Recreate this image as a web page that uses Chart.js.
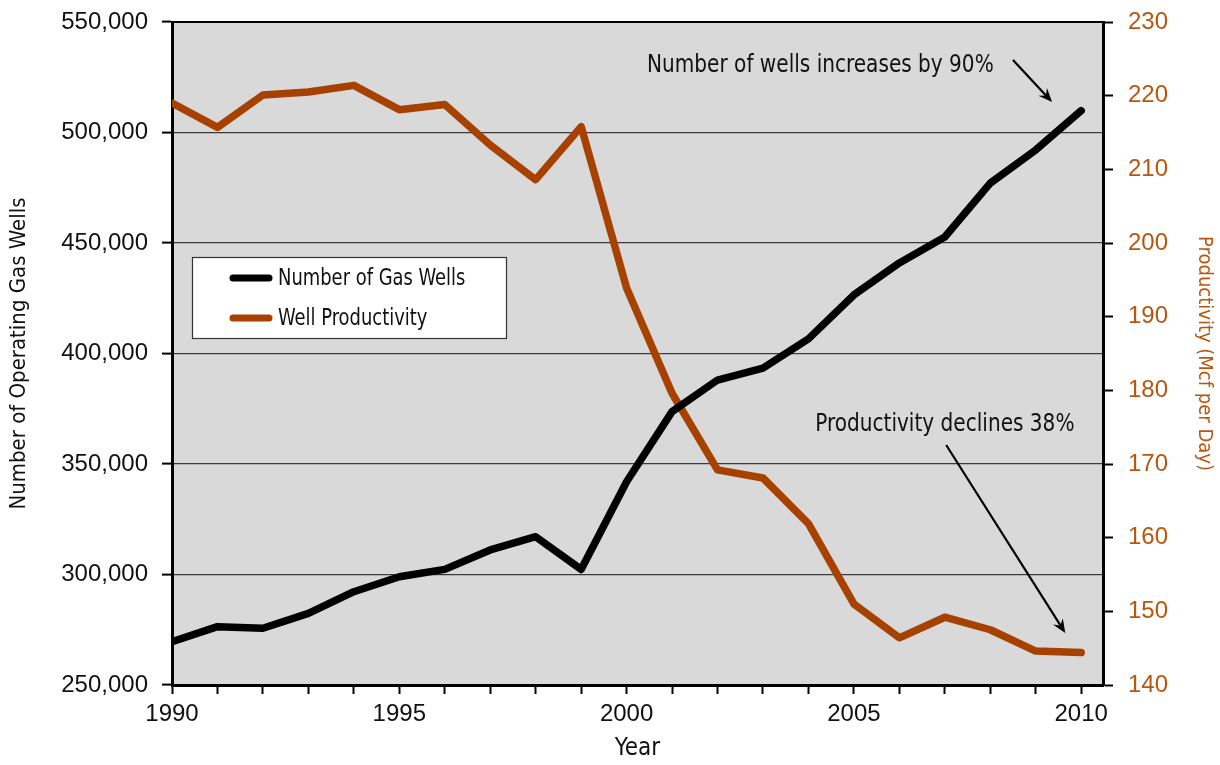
<!DOCTYPE html>
<html><head><meta charset="utf-8">
<script src="https://cdn.jsdelivr.net/npm/chart.js@4.4.1/dist/chart.umd.min.js"></script>
<style>html,body{margin:0;padding:0;background:#fff}#wrap{width:1220px;height:765px}</style>
</head><body><div id="wrap"><canvas id="c" width="1220" height="765"></canvas></div>
<script>
const years = [1990,1991,1992,1993,1994,1995,1996,1997,1998,1999,2000,2001,2002,2003,2004,2005,2006,2007,2008,2009,2010];
const gasWells = [269600,276400,275700,282400,292200,299000,302300,311100,317100,302300,342000,373700,388000,393400,406600,426500,441000,452700,477100,492100,509900];
const productivity = [219.0,215.7,220.1,220.5,221.4,218.1,218.8,213.3,208.6,215.8,193.9,179.6,169.2,168.1,161.9,151.0,146.4,149.2,147.5,144.6,144.4];
const seriesLabels = ['Number of Gas Wells','Well Productivity'];
const xTickLabels = ['1990','1995','2000','2005','2010'];
const wellTicks = [250000,300000,350000,400000,450000,500000,550000];
const prodTicks = [140,150,160,170,180,190,200,210,220,230];
const axisTitles = ['Year','Number of Operating Gas Wells','Productivity (Mcf per Day)'];
const noteTexts = ['Number of wells increases by 90%','Productivity declines 38%'];
// annotation anchors in data units: [year, wells]
const noteAnchors = [[2000.45,527400],[2004.15,364900]];
const arrowFrom = [[2008.5,532800],[2007.03,358600]];
const arrowTo = [[2009.36,513800],[2009.65,273500]];

const TXT = "'Liberation Sans Narrow','DejaVu Sans Condensed','Liberation Sans',sans-serif";
const NUM = "'Liberation Sans','DejaVu Sans',sans-serif";
const BLACK = '#000000';
const ORANGE = '#A64100';
const ORANGE_TXT = '#B8560F';

function condensedText(ctx, t, x, y, sx) {
  ctx.save();
  ctx.translate(x, y);
  ctx.scale(sx, 1);
  ctx.fillText(t, 0, 0);
  ctx.restore();
}

const bgPlugin = {
  id: 'bg',
  beforeDraw(chart) {
    const {ctx, chartArea: a} = chart;
    ctx.save();
    ctx.fillStyle = '#D9D9D9';
    ctx.fillRect(a.left, a.top, a.right - a.left, a.bottom - a.top);
    ctx.restore();
  },
  afterDatasetsDraw(chart) {
    const {ctx, chartArea: a, scales} = chart;
    ctx.save();
    ctx.strokeStyle = '#000';
    ctx.lineWidth = 2;
    ctx.beginPath(); ctx.moveTo(a.left, a.top); ctx.lineTo(a.right + 1, a.top); ctx.stroke();
    // legend
    const lx = 192, ly = 257, lw = 314, lh = 81;
    ctx.fillStyle = '#fff';
    ctx.fillRect(lx, ly, lw, lh);
    ctx.strokeStyle = '#333'; ctx.lineWidth = 1.2;
    ctx.strokeRect(lx + 0.5, ly + 0.5, lw, lh);
    const cols = [BLACK, ORANGE];
    seriesLabels.forEach((lab, i) => {
      const y = 278 + i * 40;
      ctx.strokeStyle = cols[i]; ctx.lineWidth = 7; ctx.lineCap = 'round';
      ctx.beginPath(); ctx.moveTo(233, y); ctx.lineTo(269, y); ctx.stroke();
      ctx.fillStyle = '#111'; ctx.font = '23px ' + TXT; ctx.textBaseline = 'middle'; ctx.textAlign = 'left';
      condensedText(ctx, lab, 278, y + 1, 0.866);
    });
    // annotations
    const x = scales.x, y = scales.y;
    ctx.font = '25px ' + TXT; ctx.textBaseline = 'alphabetic'; ctx.textAlign = 'left';
    noteTexts.forEach((t, i) => {
      ctx.fillStyle = '#111';
      condensedText(ctx, t, x.getPixelForValue(noteAnchors[i][0]), y.getPixelForValue(noteAnchors[i][1]), 0.893);
      const x0 = x.getPixelForValue(arrowFrom[i][0]), y0 = y.getPixelForValue(arrowFrom[i][1]);
      const x1 = x.getPixelForValue(arrowTo[i][0]), y1 = y.getPixelForValue(arrowTo[i][1]);
      const ang = Math.atan2(y1 - y0, x1 - x0);
      const hl = 15;
      ctx.strokeStyle = '#000'; ctx.lineWidth = 2.2; ctx.lineCap = 'butt';
      ctx.beginPath(); ctx.moveTo(x0, y0);
      ctx.lineTo(x1 - Math.cos(ang) * hl * 0.6, y1 - Math.sin(ang) * hl * 0.6); ctx.stroke();
      ctx.fillStyle = '#000';
      ctx.beginPath();
      ctx.moveTo(x1, y1);
      ctx.lineTo(x1 - hl * Math.cos(ang - 0.4), y1 - hl * Math.sin(ang - 0.4));
      ctx.lineTo(x1 - hl * 0.6 * Math.cos(ang), y1 - hl * 0.6 * Math.sin(ang));
      ctx.lineTo(x1 - hl * Math.cos(ang + 0.4), y1 - hl * Math.sin(ang + 0.4));
      ctx.closePath(); ctx.fill();
    });
    ctx.restore();
  }
};

new Chart(document.getElementById('c'), {
  type: 'line',
  data: {
    datasets: [
      { label: seriesLabels[0], data: years.map((yr, i) => ({x: yr, y: gasWells[i]})), yAxisID: 'y',
        borderColor: BLACK, borderWidth: 7.5, pointRadius: 0, tension: 0, borderJoinStyle: 'round', borderCapStyle: 'round' },
      { label: seriesLabels[1], data: years.map((yr, i) => ({x: yr, y: productivity[i]})), yAxisID: 'y1',
        borderColor: ORANGE, borderWidth: 7.5, pointRadius: 0, tension: 0, borderJoinStyle: 'round', borderCapStyle: 'round' }
    ]
  },
  options: {
    responsive: false, animation: false, devicePixelRatio: 1,
    layout: { padding: { top: 22, left: 0, right: 0, bottom: 0 } },
    plugins: { legend: { display: false }, tooltip: { enabled: false } },
    scales: {
      x: {
        type: 'linear', min: 1990, max: 2010.48,
        afterBuildTicks: s => { s.ticks = years.map(v => ({value: v})); },
        afterFit: s => { s.height = 80; s.paddingLeft = 0; s.paddingRight = 0; },
        ticks: { stepSize: 1, autoSkip: false, maxRotation: 0, padding: 6, color: '#111',
          font: { family: NUM, size: 24 },
          callback: v => xTickLabels.includes(String(v)) ? String(v) : '' },
        grid: { drawOnChartArea: false, tickLength: 9, tickColor: '#000', tickWidth: 2 },
        border: { color: '#000', width: 3 },
        title: { display: true, text: axisTitles[0], color: '#111', font: { family: TXT, size: 24 }, padding: { top: 0, bottom: 2 } }
      },
      y: {
        position: 'left', min: 250000, max: 550000,
        afterBuildTicks: s => { s.ticks = wellTicks.map(v => ({value: v})); },
        afterFit: s => { s.width = 172; s.paddingTop = 0; s.paddingBottom = 0; },
        ticks: { padding: 14, color: '#111', font: { family: NUM, size: 24 },
          callback: v => Number(v).toLocaleString('en-US') },
        grid: { color: '#3c3c3c', lineWidth: 1.2, tickLength: 10, tickColor: '#000', tickWidth: 2 },
        border: { color: '#000', width: 3 },
        title: { display: true, text: axisTitles[1], color: '#111', font: { family: TXT, size: 22 }, padding: { top: 6, bottom: 0 } }
      },
      y1: {
        position: 'right', min: 140, max: 230,
        afterBuildTicks: s => { s.ticks = prodTicks.map(v => ({value: v})); },
        afterFit: s => { s.width = 117; s.paddingTop = 0; s.paddingBottom = 0; },
        ticks: { padding: 15, color: ORANGE_TXT, font: { family: NUM, size: 24 } },
        grid: { drawOnChartArea: false, tickLength: 10, tickColor: '#000', tickWidth: 2 },
        border: { color: '#000', width: 3 },
        title: { display: true, text: axisTitles[2], color: ORANGE_TXT, font: { family: TXT, size: 20 }, padding: { top: 4, bottom: 4 } }
      }
    }
  },
  plugins: [bgPlugin]
});
</script></body></html>
